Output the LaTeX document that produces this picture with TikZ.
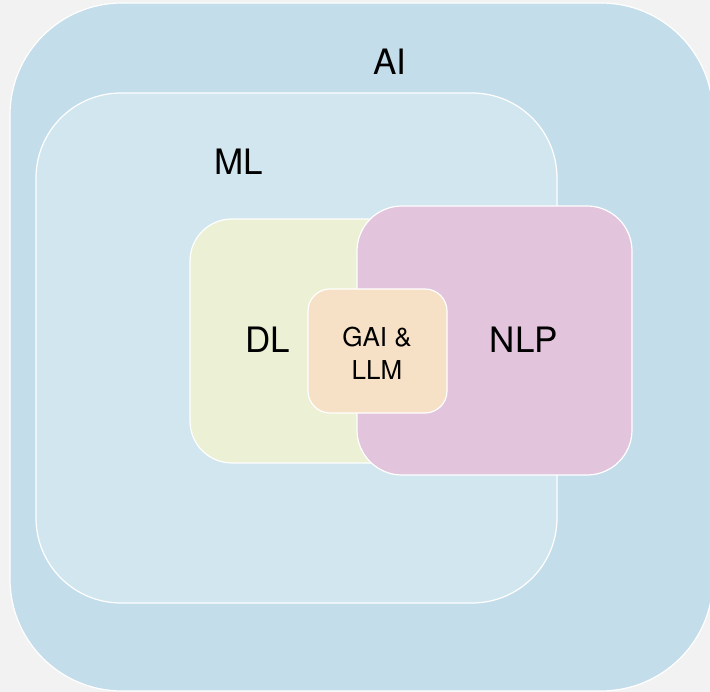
\documentclass[tikz,border=0pt]{standalone}
\usepackage{fontspec}
\setmainfont{TeX Gyre Heros}
\definecolor{bg}{HTML}{F2F2F2}
\definecolor{aic}{HTML}{C4DDEA}
\definecolor{mlc}{HTML}{D2E6EF}
\definecolor{dlc}{HTML}{ECF0D4}
\definecolor{nlpc}{HTML}{E2C4DD}
\definecolor{gaic}{HTML}{F7E1C6}
\begin{document}
\begin{tikzpicture}[x=1pt,y=-1pt,
  region/.style={draw=white,line width=1.2pt},
  big/.style={font=\fontsize{35}{40}\selectfont,text=black},
  small/.style={font=\fontsize{26}{33}\selectfont,text=black,align=center}]
\useasboundingbox (0,0) rectangle (710,692);
\fill[bg] (0,0) rectangle (710,692);
\begin{scope}
\clip (0,0) rectangle (710,692);
\draw[region,fill=aic,rounded corners=112pt] (10,3) rectangle (713,691);
\draw[region,fill=mlc,rounded corners=85pt] (36,93) rectangle (557,603);
\draw[region,fill=dlc,rounded corners=42pt] (190,219) rectangle (450,463);
\draw[region,fill=nlpc,rounded corners=45pt] (357,206) rectangle (632,475);
\draw[region,fill=gaic,rounded corners=22pt] (308,289) rectangle (447,413);
\end{scope}
\node[big] (ai) at (390,62) {AI};
\node[big] (ml) at (239,162) {ML};
\node[big] (dl) at (268,340) {DL};
\node[big] (nlp) at (524,340) {NLP};
\node[small] (gai) at (377,353) {GAI \&\\LLM};
\end{tikzpicture}
\end{document}
